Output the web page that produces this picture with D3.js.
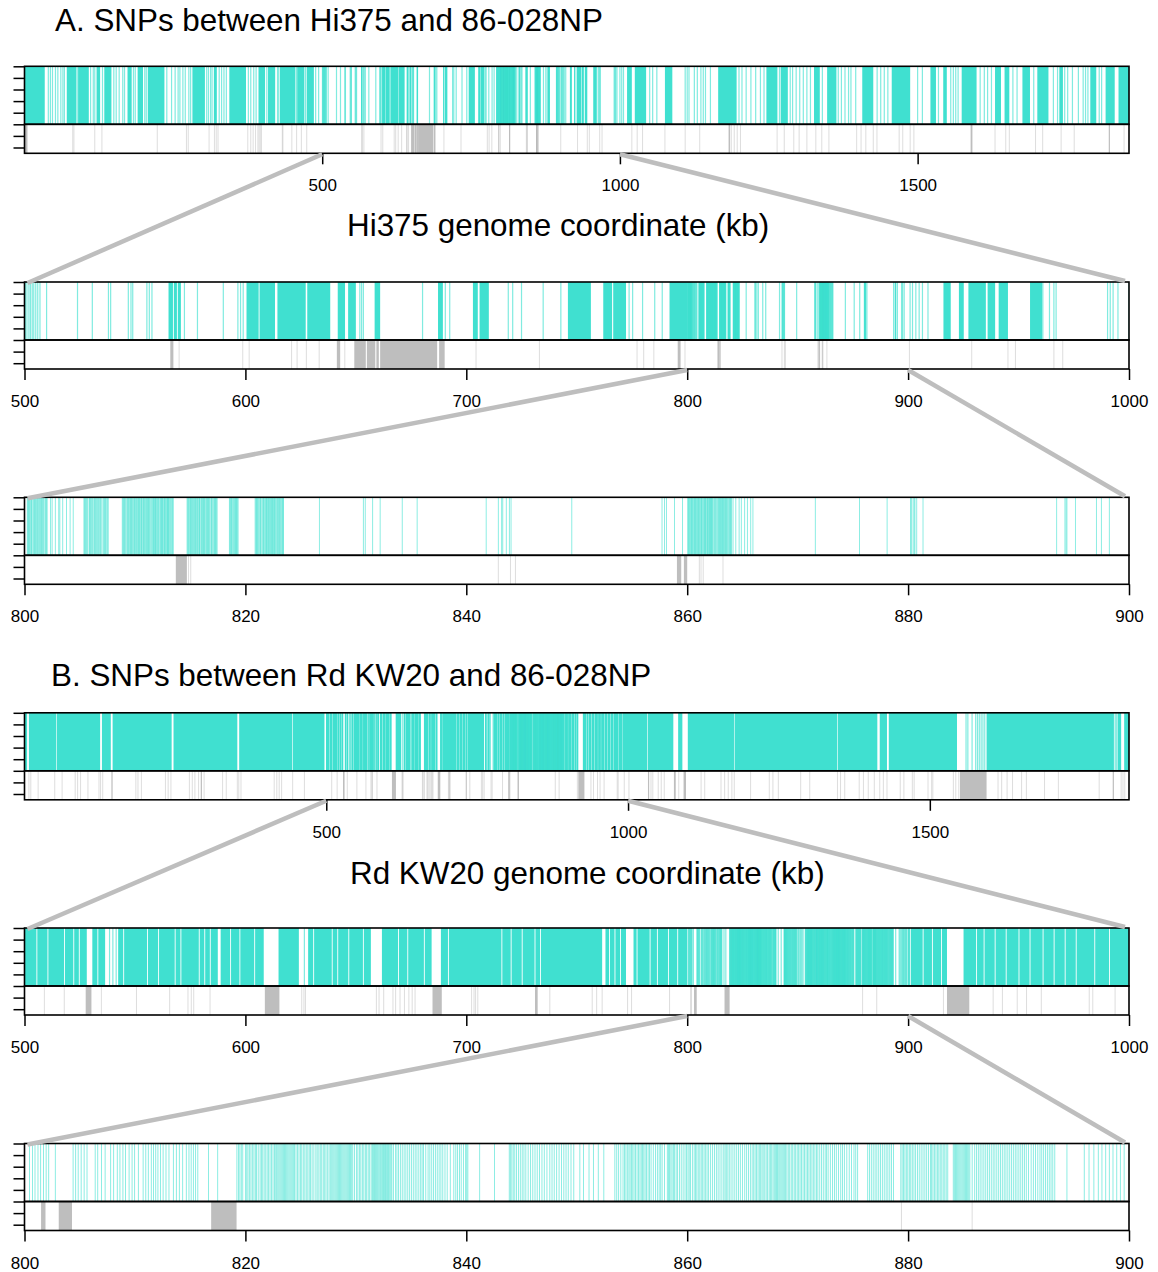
<!DOCTYPE html>
<html>
<head>
<meta charset="utf-8">
<script src="https://cdn.jsdelivr.net/npm/d3@7"></script>
<style>
  body { margin: 0; background: #fff; }
  svg text { font-family: "Liberation Sans", Arial, Helvetica, sans-serif; }
</style>
</head>
<body>
<svg id="chart" width="1158" height="1272"></svg>
<script>
// ---- genome lengths (kb) ----
const hiLength = 1855;
const rdLength = 1830;

// ---- tick labels ----
const overviewTicks = [500, 1000, 1500];
const midTicks = [500, 600, 700, 800, 900, 1000];
const fineTicks = [800, 820, 840, 860, 880, 900];
const sideTicks = [0, 1, 2, 3, 4, 5, 6, 7];

// ---- text ----
const titleA = "A. SNPs between Hi375 and 86-028NP";
const titleB = "B. SNPs between Rd KW20 and 86-028NP";
const axisLabelA = "Hi375 genome coordinate (kb)";
const axisLabelB = "Rd KW20 genome coordinate (kb)";

// ---- Hi375 vs 86-028NP: SNP-dense stretches [start, end] in kb ----
const hiSnpBlocks = [
  [0,34],[71,87],[90,108],[121,127],[134,146],[173,180],[190,199],[207,235],[282,303],[318,323],
  [344,372],[393,404],[409,421],[429,455],[458,470],[474,486],
  [565.2,567.2],[567.6,569],[569.4,570.8],[600.5,606],[606.4,613.4],[614.5,627.3],[628,638.4],
  [641.8,645.1],[646.5,650],[658.5,661],[687.2,689.4],[703,705.2],[706,710.2],[746,756.4],
  [762,766],[766.5,772.3],[792,800],
  [916,919.3],[923,925.2],[927.3,935.2],[936,939.4],[941,945.2],[955.2,960.7],
  [1012,1020],[1025,1044],[1075.6,1088],[1165,1196],[1246,1264.5],[1270,1282],[1326,1335.7],
  [1348,1363.6],[1407,1425.5],[1456.5,1487.5],[1521.5,1530.8],[1543,1549],[1574,1599],[1630,1640],
  [1646,1654],[1676,1688.7],[1701,1719.7],[1738,1744],[1790,1800],[1815.7,1831],[1837.4,1855]
];

// ---- Hi375 vs 86-028NP: individual SNP sites (kb) ----
const hiSnpSites = [
  40,43.5,47,52,56,61,64.5,67,88.5,111,115.5,118,131,150,154,159,165,168,183,186,202,204.5,239,247,
  253,258,261,266,270,276,279,306,309,312.5,315,327,331,335,339,376,380,385,389,407,425,427,457,472,
  489,494,
  500.4,501.1,502,502.7,503.5,504.2,505.1,506,507,510,524,530.7,538,539,547,548.2,549,555.4,556.5,
  557.7,572.4,578.3,590,596.6,597.8,599,651.8,652.6,653.4,680.2,690.5,692.5,719,721,725,734.8,742.8,
  773.7,775.3,779.8,785.3,788.7,
  800.25,800.31,800.36,800.44,800.5,800.58,800.63,800.7,800.81,800.9,800.96,801.02,801.1,801.18,
  801.25,801.33,801.4,801.47,801.55,801.6,801.67,801.74,801.85,801.92,801.98,802.05,
  802.36,802.5,802.79,803.1,803.2,803.46,803.8,804.13,804.41,
  805.38,805.45,805.5,805.57,805.64,805.72,805.85,805.9,805.97,806.05,806.13,806.2,806.3,806.36,806.42,
  806.52,806.61,806.7,806.78,806.88,806.95,807.1,807.18,807.25,807.33,807.4,807.5,807.58,
  808.85,808.92,808.98,809.05,809.12,809.2,809.3,809.36,809.41,809.5,809.6,809.65,809.7,809.78,809.88,
  809.95,810,810.07,810.14,810.22,810.3,810.35,810.4,810.47,810.55,810.6,810.66,810.75,810.8,810.85,
  810.93,811,811.06,811.13,811.2,811.25,811.3,811.38,811.47,811.55,811.62,811.68,811.74,811.8,811.85,
  811.9,811.97,812.05,812.12,812.18,812.27,812.33,812.4,812.45,812.5,812.57,812.66,812.7,812.75,
  812.83,812.9,812.95,813,813.05,813.1,813.18,813.25,813.33,813.4,813.47,
  814.72,814.78,814.85,814.92,815,815.05,815.1,815.17,815.23,815.3,815.4,815.45,815.5,815.58,815.66,
  815.72,815.8,815.85,815.9,816,816.05,816.12,816.2,816.25,816.3,816.4,816.48,816.55,816.6,816.66,
  816.73,816.8,816.9,816.95,817,817.1,817.2,817.25,817.3,817.37,817.44,
  818.55,818.62,818.68,818.74,818.8,818.88,818.95,819.02,819.1,819.15,819.2,819.27,819.34,
  820.88,820.95,821,821.07,821.12,821.2,821.3,821.35,821.4,821.5,821.58,821.64,821.7,821.78,821.85,
  821.9,821.95,822.02,822.08,822.14,822.2,822.27,822.35,822.4,822.45,822.52,822.58,822.64,822.7,
  822.77,822.85,822.92,822.98,823.05,823.1,823.18,823.28,823.35,823.4,823.45,
  826.7,830.68,830.85,831.52,832.2,834.2,835.55,841.8,842.9,843.2,843.3,843.62,843.9,844.05,849.55,
  857.72,857.95,858.12,858.85,859.58,860.05,860.1,860.15,860.22,860.28,860.35,860.4,860.45,860.5,
  860.58,860.66,860.7,860.75,860.82,860.88,860.95,861,861.05,861.1,861.18,861.25,861.3,861.35,861.42,
  861.5,861.55,861.6,861.65,861.7,861.78,861.83,861.88,861.95,862,862.05,862.1,862.15,862.2,862.25,
  862.3,862.4,862.48,862.55,862.62,862.7,862.78,862.85,862.9,862.95,863.02,863.08,863.13,863.2,
  863.25,863.3,863.38,863.45,863.5,863.55,863.63,863.7,863.78,863.85,863.9,863.95,864.02,
  864.15,864.4,864.7,864.9,865.2,865.45,865.75,865.95,
  871.6,875.6,878.1,880.22,880.3,880.45,880.55,880.62,880.78,881.35,893.45,894.2,894.3,894.38,895.15,
  897.05,897.5,898.22,
  900.9,902,903.5,905,906.5,909,961,964,966,967,990.3,991.5,992.8,995,1000,1003,1006,
  1050,1055,1062,1109.6,1113,1116,1125,1130,1136,1140,1143.7,1152,1200,1205,1212,1220,1228,1236,1242,
  1268,1286,1290,1296,1302,1308,1314,1320,1340,1366.7,1372,1378,1384,1388,1396,1432,1438,1444,1450,
  1500,1508,1535,1555.6,1560,1564,1568,1605,1612,1617.5,1624,1660,1667,1695,1728,1735,1747,1752,1760,
  1770,1778,1782,1786,1805,1809
];

// ---- Hi375 vs 86-028NP: unaligned stretches and single gap sites (kb) ----
const hiGapBlocks = [
  [0,5],[566,567.4],[641.4,642.9],[649.3,654.5],[655,658.8],[659.3,660.4],[661,686.8],[687.7,690.2],
  [795.7,797],[813.7,814.7],[859.07,859.46],[859.7,860],[1182.5,1185],[1589,1592],[1821,1823]
];
const hiGapSites = [
  81,83,118,130,223,272,275,310,319,322,325,375,380,384,388,392,394,396,398,433,434,449,457,465,474,
  570,598.8,601.7,620.9,623.4,627.6,633.4,645,704.4,733.1,777.3,780.3,784.9,799,814.85,815.05,842.9,
  844,844.45,861.1,861.25,861.45,863.24,900.6,928.8,945.2,948.6,966,970,1020,1029,1038,1075.6,1109.6,
  1134,1187,1192,1197,1202.5,1264,1276,1292,1301,1314,1329,1339,1351,1397.6,1405,1413,1425.5,1431.7,
  1469,1475,1487.5,1493.7,1630,1648,1654,1698,1710,1741,1763,1846.7
];

// ---- Rd KW20 vs 86-028NP: SNP-dense stretches [start, end] in kb ----
const rdSnpBlocks = [
  [0,4.3],[7.3,52.5],[53.5,125.3],[128.3,143],[146,243.8],[246.9,352.6],[355.7,443.5],[444.5,497],
  [499.5,505.4],[505.8,510.4],[510.8,517.9],[518.3,522.1],[522.5,524.6],[525,528.2],
  [530.7,533],[533.4,536.5],
  [542.4,544.7],[545.1,555.5],[555.9,560.5],[560.9,568],[568.4,570.6],[571,578.9],[579.3,581.4],
  [581.8,583.9],[584.3,587.5],
  [588.8,593.1],[593.5,597.3],[597.7,604],[604.4,608.3],
  [615,624.2],
  [628.4,630.7],[631.1,639.1],[639.5,641.6],[642,646.6],[647,653.2],[653.6,656.8],
  [661.8,669.1],[669.5,673.3],[673.7,680.8],[681.2,684.3],
  [688.5,691.7],[692.1,715.9],[716.3,720.1],[720.5,725.1],[725.5,730.9],[731.3,733.4],[733.8,761.5],
  [763,764.6],[765,767.1],[767.5,769.6],[770,772.3],
  [775.7,777.1],[777.5,783],[783.4,786.3],[786.7,791.3],[791.7,795.5],[795.9,800],
  [900,900.8],[901.2,906.6],[907,910.8],[911.2,914.9],[915.3,917.6],
  [925.1,930.8],[931.2,934.2],[934.6,939.2],[939.6,944.2],[944.6,950],[950.4,955],[955.4,960.9],
  [961.3,965.9],[966.3,970.9],[971.3,975.9],[976.3,984.3],[984.7,991],[991.4,1031.5],
  [1032.5,1075],[1083,1090],[1099,1175.5],[1176.5,1346.5],[1347.5,1413],[1417,1429],[1432,1545],
  [1594,1805],[1811,1817],[1822,1830]
];

// ---- Rd KW20 vs 86-028NP: individual SNP sites (kb) ----
const rdSnpSites = [
  538.5,540,541.5,626.7,
  800.45,800.72,800.95,801.22,801.46,801.72,801.96,802.19,802.79,804.4,804.63,804.86,805.13,805.4,
  805.66,806.4,806.63,806.97,807.3,807.8,808.07,808.4,808.64,808.91,809.14,809.47,809.74,809.97,
  810.31,810.74,810.98,811.21,811.48,811.68,811.88,812.08,812.31,812.55,812.81,813.08,813.48,813.75,
  814.02,814.32,814.65,814.89,815.09,815.29,815.49,815.69,816.66,817.49,
  819.23,819.37,819.5,819.63,819.76,820,820.12,820.23,820.36,820.5,820.63,820.77,820.9,821,821.16,
  821.33,821.45,821.57,821.7,821.84,821.97,822.1,822.23,822.37,822.5,822.64,822.75,822.84,822.94,
  823.04,823.14,823.24,823.34,823.44,823.54,823.64,823.74,823.84,823.94,824.04,824.14,824.24,824.34,
  824.44,824.58,824.71,824.85,824.98,825.1,825.24,825.38,825.51,825.65,825.78,825.9,826.04,826.2,
  826.38,826.5,826.65,826.78,826.91,827.05,827.18,827.3,827.45,827.58,827.72,827.82,827.92,828.02,
  828.12,828.22,828.32,828.42,828.52,828.62,828.72,828.82,828.92,829.02,829.12,829.22,829.32,829.42,
  829.52,829.62,829.72,829.88,830.05,830.18,830.32,830.45,830.59,830.72,830.86,830.98,831.12,831.25,
  831.39,831.5,831.59,831.68,831.76,831.84,831.92,832,832.09,832.18,832.26,832.35,832.43,832.51,
  832.59,832.68,832.76,832.85,832.93,833,833.09,833.18,833.26,833.4,833.6,833.72,833.86,834.03,834.2,
  834.37,834.53,834.7,834.87,835.03,835.2,835.37,835.53,835.7,835.87,836,836.13,836.33,836.54,836.7,
  836.87,837.03,837.2,837.37,837.54,837.7,837.87,838.07,838.27,838.55,838.87,839.05,839.21,839.38,
  839.54,839.74,839.94,840.04,840.14,841.21,842.55,
  843.89,843.99,844.12,844.25,844.39,844.55,844.72,844.89,845.06,845.22,845.39,845.6,845.82,846.02,
  846.22,846.42,846.63,846.85,847.06,847.3,847.56,847.76,847.96,848.18,848.4,848.62,848.83,849.03,
  849.23,849.48,849.73,
  850.28,850.61,851.11,851.51,851.95,852.45,853.45,853.62,853.79,853.99,854.19,854.32,854.45,854.58,
  854.72,854.83,854.95,855.07,855.19,855.32,855.46,855.59,855.72,855.84,855.96,856.07,856.19,856.32,
  856.46,856.59,856.73,856.93,857.13,857.3,857.46,857.6,857.73,857.95,858.2,858.3,858.4,858.52,
  858.63,858.75,858.86,859,859.13,859.3,859.46,859.63,859.8,859.93,860.07,860.18,860.3,860.47,860.63,
  860.75,860.87,861,861.14,861.27,861.4,861.53,861.67,861.8,861.94,862.12,862.3,862.47,862.64,862.8,
  862.97,863.14,863.31,863.43,863.54,863.68,863.81,863.97,864.14,864.31,864.48,864.65,864.81,865,
  865.21,865.38,865.55,865.72,865.88,866.02,866.15,866.28,866.41,866.53,866.65,866.77,866.88,867.02,
  867.15,867.28,867.42,867.53,867.65,867.77,867.88,867.98,868.08,868.18,868.29,868.39,868.49,868.59,
  868.69,868.79,868.89,869.02,869.15,869.28,869.42,869.55,869.69,869.82,869.96,870.09,870.22,870.35,
  870.49,870.62,870.76,870.89,871.02,871.15,871.29,871.42,871.56,871.7,871.83,872,872.16,872.32,
  872.49,872.62,872.76,872.96,873.16,873.33,873.5,873.7,873.9,874.06,874.23,874.45,874.67,874.88,
  875.1,875.26,875.43,876.34,876.5,876.67,876.84,877.01,877.17,877.34,877.5,877.67,877.84,878.01,
  878.17,878.34,878.5,878.68,879.34,879.46,879.58,879.71,879.84,879.97,880.11,880.24,880.38,880.53,
  880.68,880.85,881.01,881.18,881.35,881.52,881.68,881.85,882.02,882.13,882.25,882.38,882.52,882.65,
  882.78,882.91,883.05,883.18,883.32,883.45,883.59,884.09,884.19,884.29,884.39,884.49,884.59,884.69,
  884.79,884.89,884.99,885.09,885.19,885.29,885.39,885.49,885.59,885.8,886.03,886.2,886.36,886.52,
  886.69,886.86,887.03,887.2,887.36,887.53,887.7,887.86,888.03,888.2,888.36,888.53,888.7,888.86,
  889.03,889.2,889.37,889.53,889.7,889.86,890.03,890.2,890.37,890.53,890.7,890.9,891.14,891.34,
  891.54,891.74,891.94,892.1,892.27,892.44,892.61,892.78,892.94,893.1,893.28,894.38,895.95,896.38,
  896.82,897.22,897.55,897.89,898.22,898.55,898.89,899.22,899.56,
  1560,1563,1570,1576,1579,1582,1585,1588,1591,1807,1809
];

// ---- Rd KW20 vs 86-028NP: unaligned stretches and single gap sites (kb) ----
const rdGapBlocks = [
  [144,146],[292,294],[527.7,530.3],[608.8,615.4],[684.7,688.9],[731.1,732.3],[801.5,801.9],
  [803.1,804.3],[816.9,819.2],[917.6,927.7],[1033,1035],[1076,1079],[1092,1096],[1550,1594],[1803,1805]
];
const rdGapSites = [
  7.3,10.4,22.6,50.1,62.3,84,88,92.9,105.1,123.4,126,129.6,184.5,188,193.7,233.5,238,242.6,273.2,278,
  282.3,288.4,297.6,328.2,334.3,352.6,355,358.7,413.7,418,422,426,444.3,463.8,509,518,534.8,550.7,
  565.7,574,575.5,576.6,584,625.5,626.5,627.2,659.3,660.5,662.6,666.8,668,670,672,674,675.5,676.8,
  702.4,703.5,704.2,705.2,737.8,757,759,761.5,773,774.8,792,879.4,885.8,916,938.5,942.7,949.4,953.6,
  960.3,982,983.6,993.7,1001.5,1038,1041,1050,1055,1060,1084,1121,1127,1154,1160,1166,1172,1176,1203,
  1234,1240,1249,1286,1301,1347,1352,1359,1383,1390,1398,1408,1417,1423,1429,1451,1457,1471,1474,
  1497,1503,1505,1539,1543,1548,1613,1619,1628,1637,1652,1660,1690,1713,1780.6,1817,1820,1823
];

// ---------------------------------------------------------------------------
const TEAL = "#40E0D0";
const GRAY = "#BEBEBE";
const plotLeft = 24.5, plotRight = 1129;
const snpH = 58, gapH = 29;

const genomes = {
  hi: { blocks: hiSnpBlocks, sites: hiSnpSites, gapBlocks: hiGapBlocks, gapSites: hiGapSites, length: hiLength },
  rd: { blocks: rdSnpBlocks, sites: rdSnpSites, gapBlocks: rdGapBlocks, gapSites: rdGapSites, length: rdLength }
};

// siteWidth: drawn width (px) of a single SNP stroke in each view
const panels = [
  { genome: "hi", domain: [0, hiLength], top: 66.3, ticks: overviewTicks, siteWidth: 1.2 },
  { genome: "hi", domain: [500, 1000], top: 282, ticks: midTicks, siteWidth: 1.2 },
  { genome: "hi", domain: [800, 900], top: 497.3, ticks: fineTicks, siteWidth: 0.9 },
  { genome: "rd", domain: [0, rdLength], top: 712.8, ticks: overviewTicks, siteWidth: 1.2 },
  { genome: "rd", domain: [500, 1000], top: 928, ticks: midTicks, siteWidth: 1.2 },
  { genome: "rd", domain: [800, 900], top: 1143.5, ticks: fineTicks, siteWidth: 0.9 }
];

const svg = d3.select("#chart");
const defs = svg.append("defs");

panels.forEach((p, i) => {
  const g = genomes[p.genome];
  const x = d3.scaleLinear().domain(p.domain).range([plotLeft, plotRight]);
  p.x = x;
  const snpTop = p.top, gapTop = p.top + snpH, bottom = p.top + snpH + gapH;
  p.bottom = bottom;

  defs.append("clipPath").attr("id", "clip" + i)
    .append("rect").attr("x", plotLeft).attr("y", snpTop)
    .attr("width", plotRight - plotLeft).attr("height", snpH + gapH);

  const layer = svg.append("g").attr("clip-path", `url(#clip${i})`);
  const inView = d => d >= p.domain[0] - 1 && d <= p.domain[1] + 1;
  const blockInView = d => d[1] >= p.domain[0] && d[0] <= p.domain[1];

  // SNP track
  layer.append("g").selectAll("rect").data(g.blocks.filter(blockInView)).join("rect")
    .attr("x", d => x(d[0]))
    .attr("width", d => Math.max(1, x(d[1]) - x(d[0])))
    .attr("y", snpTop).attr("height", snpH)
    .attr("fill", TEAL);
  layer.append("g").selectAll("rect").data(g.sites.filter(inView)).join("rect")
    .attr("x", d => x(d) - p.siteWidth / 2).attr("width", p.siteWidth)
    .attr("y", snpTop).attr("height", snpH)
    .attr("fill", TEAL).attr("fill-opacity", 0.66);

  // unaligned track
  layer.append("g").selectAll("rect").data(g.gapBlocks.filter(blockInView)).join("rect")
    .attr("x", d => x(d[0]))
    .attr("width", d => Math.max(1, x(d[1]) - x(d[0])))
    .attr("y", gapTop).attr("height", gapH)
    .attr("fill", GRAY);
  layer.append("g").selectAll("rect").data(g.gapSites.filter(inView)).join("rect")
    .attr("x", d => x(d) - 0.5).attr("width", 1)
    .attr("y", gapTop).attr("height", gapH)
    .attr("fill", GRAY).attr("fill-opacity", 0.5);

  // frames
  svg.append("rect").attr("x", plotLeft).attr("y", snpTop)
    .attr("width", plotRight - plotLeft).attr("height", snpH)
    .attr("fill", "none").attr("stroke", "#000").attr("stroke-width", 1.6);
  svg.append("rect").attr("x", plotLeft).attr("y", gapTop)
    .attr("width", plotRight - plotLeft).attr("height", gapH)
    .attr("fill", "none").attr("stroke", "#000").attr("stroke-width", 1.6);

  // bottom axis
  const xAxis = svg.append("g").attr("transform", `translate(0,${bottom})`)
    .call(d3.axisBottom(x).tickValues(p.ticks).tickFormat(d3.format("d"))
      .tickSize(11).tickPadding(15).tickSizeOuter(0));
  xAxis.select(".domain").remove();
  xAxis.selectAll("line").attr("stroke", "#000").attr("stroke-width", 1.5);
  xAxis.selectAll("text").attr("font-size", 17).attr("fill", "#000")
    .attr("font-family", '"Liberation Sans", Arial, sans-serif');

  // left side ticks
  const y = d3.scaleLinear().domain([0, 7.5]).range([snpTop, bottom]);
  const yAxis = svg.append("g").attr("transform", `translate(${plotLeft},0)`)
    .call(d3.axisLeft(y).tickValues(sideTicks).tickSize(11).tickFormat(""));
  yAxis.select(".domain").remove();
  yAxis.selectAll("line").attr("stroke", "#000").attr("stroke-width", 1.5);
});

// zoom connectors between successive panels of the same genome
[[0, 1], [1, 2], [3, 4], [4, 5]].forEach(([a, b]) => {
  const pa = panels[a], pb = panels[b];
  const lines = [
    [[pa.x(pb.domain[0]), pa.bottom + 1], [plotLeft + 3, pb.top + 1]],
    [[pa.x(pb.domain[1]), pa.bottom + 1], [plotRight - 4, pb.top - 1]]
  ];
  svg.append("g").selectAll("line").data(lines).join("line")
    .attr("x1", d => d[0][0]).attr("y1", d => d[0][1])
    .attr("x2", d => d[1][0]).attr("y2", d => d[1][1])
    .attr("stroke", GRAY).attr("stroke-width", 4.5);
});

// titles and axis labels
const textStyle = sel => sel.attr("font-size", 31.4).attr("fill", "#000");
svg.append("text").attr("x", 55).attr("y", 31).text(titleA).call(textStyle);
svg.append("text").attr("x", 347).attr("y", 236).text(axisLabelA).call(textStyle);
svg.append("text").attr("x", 51).attr("y", 686).text(titleB).call(textStyle);
svg.append("text").attr("x", 350).attr("y", 884).text(axisLabelB).call(textStyle);
</script>
</body>
</html>
